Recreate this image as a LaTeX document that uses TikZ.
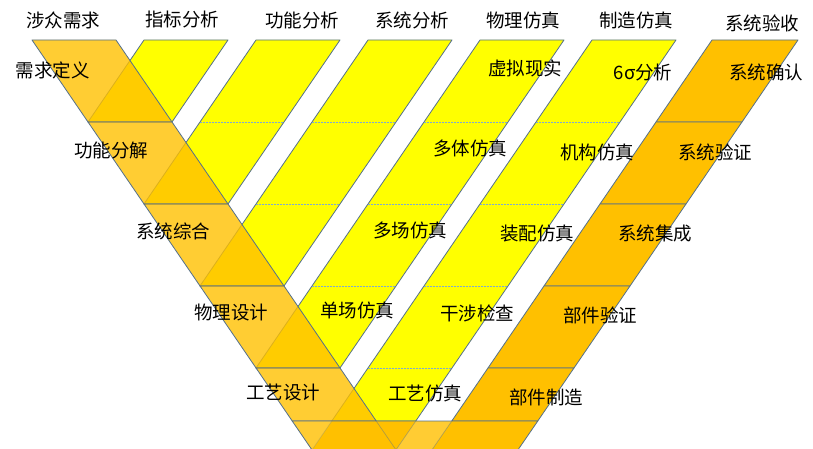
\documentclass[tikz,border=0pt]{standalone}
\usepackage{fontspec}
\setmainfont{Noto Sans CJK SC}
\usetikzlibrary{calc}

\definecolor{band}{RGB}{255,192,0}
\definecolor{lightband}{RGB}{255,204,51}
\definecolor{sim}{RGB}{255,255,0}
\definecolor{edge}{RGB}{84,112,140}
\definecolor{rowdash}{RGB}{125,170,210}

\newcommand{\vslope}{0.683}

\tikzset{
  cell/.style={draw=edge, line width=0.8pt, line join=round},
  simcell/.style={cell, fill=sim},
  defcell/.style={cell, fill=band, fill opacity=0.8},
  testcell/.style={cell, fill=band},
  rowline/.style={draw=rowdash, dash pattern=on 2pt off 1pt, line width=0.7pt},
  faint/.style={draw=edge, line width=0.7pt, draw opacity=0.45},
  lab/.style={font=\fontsize{18.5}{21}\selectfont, inner sep=0pt}
}

\begin{document}
\begin{tikzpicture}[x=1pt,y=-1pt]
\useasboundingbox (0,0) rectangle (813,449);
\clip (0,0) rectangle (813,449);

% simulation bands (yellow), rising to the right
\foreach \j/\e in {1/122,2/204,3/286,4/368,5/421}
{
    \pgfmathsetmacro{\cx}{32+112*\j}
    \draw[simcell] (\cx,40) -- ++(84,0) -- ({\cx+84-\vslope*(\e-40)},\e) -- ({\cx-\vslope*(\e-40)},\e) -- cycle;
}

% dashed row lines inside the yellow bands
\foreach \j in {2,...,5}
{
    \pgfmathtruncatemacro{\nrow}{\j-1}
    \pgfmathsetmacro{\cx}{32+112*\j}
    \foreach \k in {1,...,\nrow}
    {
        \pgfmathsetmacro{\ry}{40+82*\k}
        \draw[rowline] ({\cx-\vslope*(\ry-40)},\ry) -- ++(84,0);
    }
}

% verification band (orange), right side
\foreach \t/\b in {40/122,122/204,204/286,286/368,368/421}
{
    \draw[testcell] ({712-\vslope*(\t-40)},\t) -- ({798-\vslope*(\t-40)},\t) -- ({798-\vslope*(\b-40)},\b) -- ({712-\vslope*(\b-40)},\b) -- cycle;
}

% definition band (light orange), left side, over the yellow
\foreach \t/\b in {40/122,122/204,204/286,286/368,368/421}
{
    \draw[defcell] ({32+\vslope*(\t-40)},\t) -- ({116+\vslope*(\t-40)},\t) -- ({116+\vslope*(\b-40)},\b) -- ({32+\vslope*(\b-40)},\b) -- cycle;
}

% bottom of the V
\fill[band] (292.2,421) -- (537.8,421) -- (511,460) -- (318.9,460) -- cycle;
\fill[lightband] (292.2,421) -- (331.8,421) -- (312,450) -- cycle;
\fill[lightband] (415.8,421) -- (451.8,421) -- (425,460) -- (389,460) -- cycle;
\draw[faint, draw opacity=0.25] (331.8,421) -- (305.1,460);
\draw[faint] (376.2,421) -- (402.9,460);
\draw[faint] (415.8,421) -- (389,460);
\draw[faint] (451.8,421) -- (425,460);
\draw[cell] (318.9,460) -- (292.2,421) -- (537.8,421) -- (511,460);

% column heads
\foreach \x/\y/\t [count=\i] in {63/20/涉众需求, 182/20/指标分析, 302/20/功能分析, 412/20/系统分析, 523/20/物理仿真, 636/20/制造仿真, 762/23/系统验收}
{
    \node[lab] (head\i) at (\x,\y) {\t};
}

% labels on the left band
\foreach \x/\y/\t [count=\i] in {53/70/需求定义, 111/150/功能分解, 173/231/系统综合, 231/312/物理设计, 283/392/工艺设计}
{
    \node[lab] (def\i) at (\x,\y) {\t};
}

% labels on the yellow bands
\foreach \x/\y/\t [count=\i] in {525/68/虚拟现实, 643/72/6σ分析, 470/148/多体仿真, 597/152/机构仿真, 410/230/多场仿真, 537/233/装配仿真, 357/310/单场仿真, 477/313/干涉检查, 425/393/工艺仿真}
{
    \node[lab] (sim\i) at (\x,\y) {\t};
}

% labels on the right band
\foreach \x/\y/\t [count=\i] in {766/72/系统确认, 715/152/系统验证, 655/233/系统集成, 600/315/部件验证, 546/397/部件制造}
{
    \node[lab] (test\i) at (\x,\y) {\t};
}

\end{tikzpicture}
\end{document}
